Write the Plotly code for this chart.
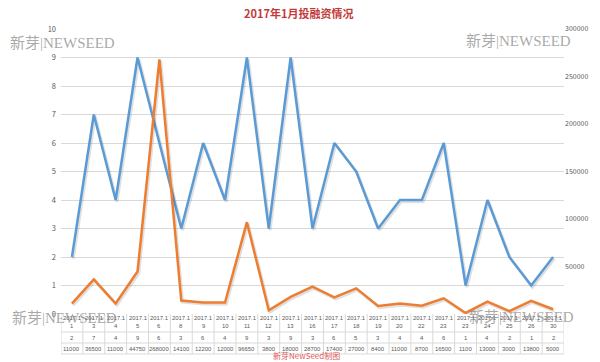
import plotly.graph_objects as go

title = "2017年1月投融资情况"
month_labels = ["2017.1"] * 23
days = ["1", "3", "4", "5", "6", "8", "9", "10", "11", "12", "13", "16", "17",
        "18", "19", "20", "22", "23", "23", "24", "25", "26", "30"]
project_counts = [2, 7, 4, 9, 6, 3, 6, 4, 9, 3, 9, 3, 6, 5, 3, 4, 4, 6, 1, 4, 2, 1, 2]
amounts = [11000, 36500, 11000, 44750, 268000, 14100, 12200, 12000, 96650, 3800,
           18000, 28700, 17400, 27000, 8400, 11000, 8700, 16500, 1100, 13000,
           3000, 13800, 5000]
series_names = ["项目数", "融资金额"]
left_ticks = list(range(0, 11))
right_ticks = [0, 50000, 100000, 150000, 200000, 250000, 300000]

W, H = 600, 362
ML, MR, MT, MB = 61, 32, 29, 48
PW = W - ML - MR
PH = H - MT - MB
n = len(days)
xs = list(range(n))

BLUE = "#5B9BD5"
ORANGE = "#ED7D31"
TXT = "#595959"
GRID = "#d9d9d9"
FONT = "Noto Sans CJK SC, Liberation Sans, sans-serif"


def px_to_x(px):
    return (px - ML) / PW * n - 0.5


def py_to_paper(py):
    return (H - MB - py) / PH


fig = go.Figure()
# subtle shadows
fig.add_trace(go.Scatter(x=[v + 0.06 for v in xs], y=[v - 0.06 for v in project_counts],
                         mode="lines", line=dict(color="rgba(0,0,0,0.12)", width=3),
                         hoverinfo="skip", showlegend=False))
fig.add_trace(go.Scatter(x=[v + 0.06 for v in xs], y=[v - 1700 for v in amounts],
                         mode="lines", line=dict(color="rgba(0,0,0,0.12)", width=3),
                         yaxis="y2", hoverinfo="skip", showlegend=False))
fig.add_trace(go.Scatter(x=xs, y=project_counts, mode="lines", name=series_names[0],
                         line=dict(color=BLUE, width=2.5), showlegend=False))
fig.add_trace(go.Scatter(x=xs, y=amounts, mode="lines", name=series_names[1],
                         line=dict(color=ORANGE, width=2.5), yaxis="y2", showlegend=False))

shapes = []
annotations = []

# table lines
row_lines = [314, 332, 343, 354]
for py in row_lines[1:]:
    shapes.append(dict(type="line", xref="x", yref="paper",
                       x0=px_to_x(6), x1=n - 0.5, y0=py_to_paper(py), y1=py_to_paper(py),
                       line=dict(color=GRID, width=1)))
for k in range(n + 1):
    shapes.append(dict(type="line", xref="x", yref="paper",
                       x0=k - 0.5, x1=k - 0.5, y0=py_to_paper(314), y1=py_to_paper(354),
                       line=dict(color=GRID, width=1)))
shapes.append(dict(type="line", xref="x", yref="paper",
                   x0=px_to_x(6), x1=px_to_x(6), y0=py_to_paper(332), y1=py_to_paper(354),
                   line=dict(color=GRID, width=1)))

# legend keys in table
for py, col in [(337.5, BLUE), (348.5, ORANGE)]:
    shapes.append(dict(type="line", xref="x", yref="paper",
                       x0=px_to_x(14), x1=px_to_x(31), y0=py_to_paper(py), y1=py_to_paper(py),
                       line=dict(color=col, width=2.5)))
for py, name in [(337.5, series_names[0]), (348.5, series_names[1])]:
    annotations.append(dict(x=px_to_x(33), y=py_to_paper(py), xref="x", yref="paper",
                            text=name, showarrow=False, xanchor="left", yanchor="middle",
                            borderpad=0, font=dict(size=8, color=TXT, family=FONT)))

for k in range(n):
    cells = [(317.5, month_labels[k]), (326, days[k]), (337.5, str(project_counts[k])),
             (348.5, str(amounts[k]))]
    for py, t in cells:
        annotations.append(dict(x=k, y=py_to_paper(py), xref="x", yref="paper", text=t,
                                showarrow=False, xanchor="center", yanchor="middle",
                                borderpad=0,
                                font=dict(size=5.9, color=TXT, family="Liberation Sans, sans-serif")))

# title & caption
annotations.append(dict(x=px_to_x(300), y=py_to_paper(13), xref="x", yref="paper",
                        text="<b>" + title + "</b>",
                        showarrow=False, xanchor="center", yanchor="middle",
                        font=dict(size=11, color="#c23b3b", family=FONT)))
annotations.append(dict(x=px_to_x(308), y=py_to_paper(355), xref="x", yref="paper",
                        text="新芽NewSeed制图", showarrow=False, xanchor="center", yanchor="middle",
                        borderpad=0, font=dict(size=8, color="#e05a5a", family=FONT)))

# watermarks
WM = "新芽|NEWSEED"
for cx, cy in [(63, 43), (522, 41), (65, 318), (525, 317)]:
    annotations.append(dict(x=px_to_x(cx), y=py_to_paper(cy), xref="x", yref="paper", text=WM,
                            showarrow=False, xanchor="center", yanchor="middle",
                            font=dict(size=15, color="rgba(130,130,130,0.7)",
                                      family="Liberation Serif, DejaVu Serif, Noto Sans CJK SC, serif")))

fig.update_layout(
    width=W, height=H,
    margin=dict(l=ML, r=MR, t=MT, b=MB),
    paper_bgcolor="white", plot_bgcolor="white",
    showlegend=False,
    xaxis=dict(range=[-0.5, n - 0.5], showticklabels=False, showgrid=False, zeroline=False,
               showline=False, ticks="", fixedrange=True),
    yaxis=dict(range=[0, 10], tickvals=left_ticks, showgrid=True, gridcolor=GRID, gridwidth=1,
               zeroline=False, showline=False, ticks="", ticklabelstandoff=4,
               tickfont=dict(size=7.5, color=TXT, family=FONT)),
    yaxis2=dict(range=[0, 300000], tickvals=right_ticks[1:], overlaying="y", side="right",
                showgrid=False, zeroline=False, showline=False, ticks="", tickformat="d",
                tickfont=dict(size=7, color=TXT, family=FONT)),
    shapes=shapes,
    annotations=annotations,
)

fig.write_html("out.html", config={"displayModeBar": False},
               post_script="document.body.style.margin='0';document.body.style.overflow='hidden';")
